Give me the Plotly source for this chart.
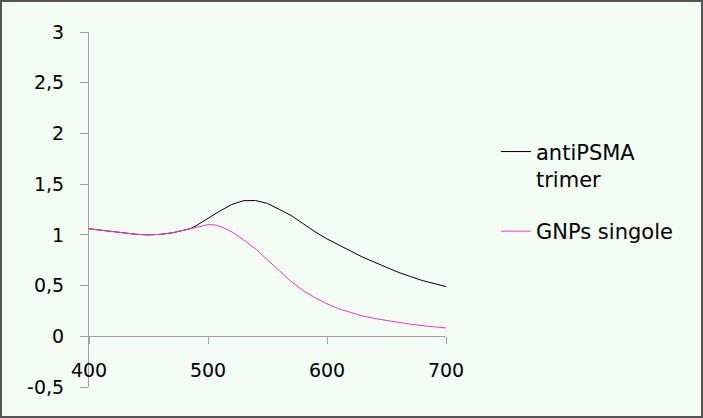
import plotly.graph_objects as go

wavelength = [400, 410, 420, 430, 440, 450, 460, 470, 480, 485, 490, 500, 505, 510, 520, 530, 540,
              550, 560, 570, 580, 590, 600, 610, 620, 630, 640, 650, 660, 670, 680, 690, 700]
antipsma_trimer = [1.06, 1.045, 1.03, 1.015, 1.005, 1.0, 1.005, 1.02, 1.045, 1.06, 1.09, 1.165, 1.20,
                   1.235, 1.30, 1.337, 1.338, 1.31, 1.25, 1.19, 1.11, 1.03, 0.96, 0.90, 0.84, 0.78,
                   0.73, 0.68, 0.63, 0.59, 0.55, 0.52, 0.49]
gnps_singole = [1.06, 1.045, 1.03, 1.015, 1.005, 1.0, 1.005, 1.02, 1.045, 1.06, 1.075, 1.10, 1.10,
                1.085, 1.03, 0.95, 0.86, 0.75, 0.64, 0.54, 0.45, 0.38, 0.32, 0.27, 0.235, 0.20,
                0.175, 0.155, 0.135, 0.12, 0.105, 0.093, 0.082]
y_ticks = [-0.5, 0, 0.5, 1, 1.5, 2, 2.5, 3]
y_tick_labels = ["-0,5", "0", "0,5", "1", "1,5", "2", "2,5", "3"]
x_ticks = [400, 500, 600, 700]

FONT = "DejaVu Sans"

fig = go.Figure()
fig.add_trace(go.Scatter(x=wavelength, y=antipsma_trimer, mode="lines",
                         name="antiPSMA<br>trimer", legendgroup="a",
                         line=dict(color="#000000", width=1)))
fig.add_trace(go.Scatter(x=wavelength, y=gnps_singole, mode="lines",
                         name="GNPs singole", legendgroup="b",
                         line=dict(color="#ff33cc", width=1)))

l, r, t, b = 89, 257, 32, 31
W, H = 703, 418
pw, ph = W - l - r, H - t - b

fig.update_layout(
    width=W, height=H,
    margin=dict(l=l, r=r, t=t, b=b),
    paper_bgcolor="#f3fdf3", plot_bgcolor="#f3fdf3",
    font=dict(family=FONT, size=19, color="#000000"),
    separators=",.",
    showlegend=True,
    legend=dict(x=1.14, y=0.72, xanchor="left", yanchor="top",
                valign="top", tracegroupgap=22, bgcolor="rgba(0,0,0,0)",
                font=dict(family=FONT, size=21)),
    xaxis=dict(range=[400, 700], tickvals=x_ticks, showgrid=False, zeroline=False,
               showline=True, linecolor="#a0a0a0", linewidth=1,
               ticks="outside", ticklen=7, tickcolor="#a0a0a0",
               anchor="free", position=0.5 / 3.5, ticklabelstandoff=10),
    yaxis=dict(range=[-0.5, 3], tickvals=y_ticks, ticktext=y_tick_labels,
               showgrid=False, zeroline=False,
               showline=True, linecolor="#a0a0a0", linewidth=1,
               ticks="outside", ticklen=8, tickcolor="#a0a0a0",
               ticklabelstandoff=12),
    shapes=[dict(type="rect", xref="paper", yref="paper",
                 x0=(1 - l) / pw, x1=(W - 1 - l) / pw,
                 y0=-(b - 1) / ph, y1=1 + (t - 1) / ph,
                 line=dict(color="#555555", width=2), layer="above")],
)

fig.write_html("out.html")
